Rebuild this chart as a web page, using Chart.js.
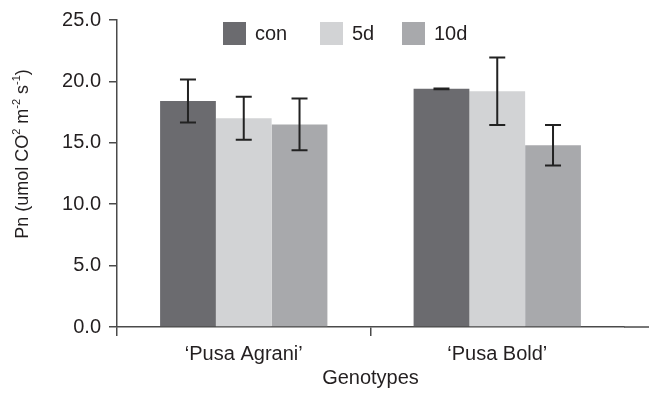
<!DOCTYPE html>
<html lang="en">
<head>
    <meta charset="UTF-8">
    <title>Pn by genotype</title>
    <script src="https://cdn.jsdelivr.net/npm/chart.js"></script>
    <style>
        body { margin: 0; background: #fff; }
        .chart-container { width: 649px; height: 394px; }
    </style>
</head>
<body>
    <div class="chart-container">
        <canvas id="pnChart" width="649" height="394"></canvas>
    </div>

    <script>
        // data
        const genotypes = ["\u2018Pusa Agrani\u2019", "\u2018Pusa Bold\u2019"];
        const seriesNames = ["con", "5d", "10d"];
        const conValues = [18.4, 19.4];
        const d5Values = [17.0, 19.2];
        const d10Values = [16.5, 14.8];
        const conErr = [1.75, 0.03];
        const d5Err = [1.75, 2.75];
        const d10Err = [2.1, 1.65];
        const yTicks = [0, 5, 10, 15, 20, 25];

        const colors = ["#6b6b6f", "#d2d3d5", "#a8a9ac"];
        const inkColor = "#231f20";
        const axisColor = "#4a4a4a";
        const fontFamily = "'Liberation Sans', Arial, sans-serif";

        // error bars on top of each bar
        const errorBars = {
            id: 'errorBars',
            afterDatasetsDraw(chart) {
                const ctx = chart.ctx;
                const y = chart.scales.y;
                ctx.save();
                ctx.strokeStyle = "#222";
                ctx.lineWidth = 2;
                chart.data.datasets.forEach((ds, i) => {
                    const meta = chart.getDatasetMeta(i);
                    meta.data.forEach((bar, j) => {
                        const v = ds.data[j];
                        const e = ds.err[j];
                        const top = y.getPixelForValue(v + e);
                        const bot = y.getPixelForValue(v - e);
                        ctx.beginPath();
                        ctx.moveTo(bar.x, top);
                        ctx.lineTo(bar.x, bot);
                        ctx.moveTo(bar.x - 8, top);
                        ctx.lineTo(bar.x + 8, top);
                        ctx.moveTo(bar.x - 8, bot);
                        ctx.lineTo(bar.x + 8, bot);
                        ctx.stroke();
                    });
                });
                ctx.restore();
            }
        };

        // legend row at top, y label, axis extension
        const extras = {
            id: 'extras',
            afterDraw(chart) {
                const ctx = chart.ctx;
                const area = chart.chartArea;
                ctx.save();

                // x axis line runs on to the right edge
                ctx.strokeStyle = axisColor;
                ctx.lineWidth = 1.5;
                ctx.beginPath();
                ctx.moveTo(area.right, area.bottom);
                ctx.lineTo(chart.width, area.bottom);
                ctx.stroke();

                // legend
                const boxX = [223, 320, 402];
                ctx.font = "20px " + fontFamily;
                ctx.textBaseline = "middle";
                ctx.textAlign = "left";
                chart.data.datasets.forEach((ds, i) => {
                    ctx.fillStyle = ds.backgroundColor;
                    ctx.fillRect(boxX[i], 22, 23, 23);
                    ctx.fillStyle = inkColor;
                    ctx.fillText(ds.label, boxX[i] + 32, 34);
                });

                // y axis title with superscripts
                ctx.translate(23, 154);
                ctx.rotate(-Math.PI / 2);
                const parts = [
                    ["Pn (umol CO", 0], ["2", 1], [" m", 0], ["-2", 1], [" s", 0], ["-1", 1], [")", 0]
                ];
                const big = "18px " + fontFamily;
                const small = "11px " + fontFamily;
                let total = 0;
                parts.forEach(p => {
                    ctx.font = p[1] ? small : big;
                    total += ctx.measureText(p[0]).width;
                });
                let x = -total / 2;
                ctx.fillStyle = inkColor;
                parts.forEach(p => {
                    ctx.font = p[1] ? small : big;
                    ctx.fillText(p[0], x, p[1] ? -6 : 0);
                    x += ctx.measureText(p[0]).width;
                });
                ctx.restore();
            }
        };

        new Chart(document.getElementById('pnChart').getContext('2d'), {
            type: 'bar',
            data: {
                labels: genotypes,
                datasets: [
                    { label: seriesNames[0], data: conValues, err: conErr, backgroundColor: colors[0] },
                    { label: seriesNames[1], data: d5Values, err: d5Err, backgroundColor: colors[1] },
                    { label: seriesNames[2], data: d10Values, err: d10Err, backgroundColor: colors[2] }
                ]
            },
            options: {
                responsive: false,
                animation: false,
                maintainAspectRatio: false,
                devicePixelRatio: 1,
                layout: { padding: { left: 0, right: 25, top: 19, bottom: 0 } },
                datasets: {
                    bar: { categoryPercentage: 0.66, barPercentage: 1.0, borderWidth: 0 }
                },
                plugins: {
                    legend: { display: false },
                    tooltip: { enabled: false }
                },
                scales: {
                    x: {
                        afterFit(scale) { scale.height = 67; },
                        grid: {
                            offset: true,
                            drawOnChartArea: false,
                            tickLength: 9,
                            lineWidth: 1.5,
                            // no tick mark at the right end
                            color: ctx => ctx.type === 'tick' ? axisColor : 'rgba(0,0,0,0)'
                        },
                        border: { color: axisColor, width: 1.5 },
                        ticks: {
                            color: inkColor,
                            padding: 6,
                            font: { family: fontFamily, size: 20 }
                        },
                        title: {
                            display: true,
                            text: 'Genotypes',
                            color: inkColor,
                            padding: { top: 7 },
                            font: { family: fontFamily, size: 20 }
                        }
                    },
                    y: {
                        min: 0,
                        max: 25,
                        afterFit(scale) { scale.width = 117; },
                        afterBuildTicks(scale) { scale.ticks = yTicks.map(v => ({ value: v })); },
                        grid: {
                            drawOnChartArea: false,
                            tickLength: 8,
                            lineWidth: 1.5,
                            color: axisColor
                        },
                        border: { color: axisColor, width: 1.5 },
                        ticks: {
                            color: inkColor,
                            padding: 8,
                            font: { family: fontFamily, size: 20 },
                            callback: v => v.toFixed(1)
                        }
                    }
                }
            },
            plugins: [errorBars, extras]
        });
    </script>
</body>
</html>
